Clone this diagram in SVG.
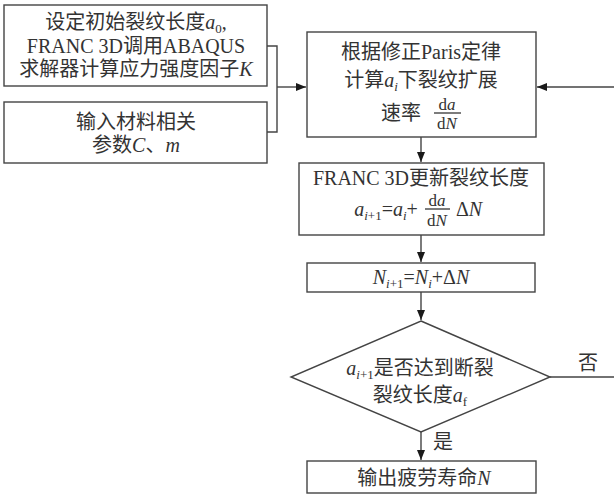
<svg xmlns="http://www.w3.org/2000/svg" width="614" height="494" viewBox="0 0 614 494">
<defs>
<marker id="ah" viewBox="0 0 10 8" refX="10" refY="4" markerWidth="10" markerHeight="8" markerUnits="userSpaceOnUse" orient="auto">
<path d="M0,0 L10,4 L0,8 Z" fill="#1a1a1a"/>
</marker>
<style>
.box{fill:#fff;stroke:#444;stroke-width:1.4}
.ln{fill:none;stroke:#444;stroke-width:1.4}
text{font-family:"Liberation Serif","Noto Sans CJK SC",serif;font-size:20px;fill:#333}
.c{text-anchor:middle}
.i{font-style:italic}
.s{font-size:13px}
.f{font-size:17px}
</style>
</defs>
<rect width="614" height="494" fill="#fff"/>
<g id="connectors">
<path class="ln" d="M267,46 H277 V132 H267"/>
<path class="ln" d="M277,87 H306" marker-end="url(#ah)"/>
<path class="ln" d="M616,87 H537" marker-end="url(#ah)"/>
<path class="ln" d="M421,137 V162" marker-end="url(#ah)"/>
<path class="ln" d="M421,235 V262" marker-end="url(#ah)"/>
<path class="ln" d="M421,292 V320" marker-end="url(#ah)"/>
<path class="ln" d="M421,432 V460" marker-end="url(#ah)"/>
<path class="ln" d="M550,377 H616 V87"/>
<text x="588" y="370" class="c">否</text>
<text x="443" y="449" class="c">是</text>
</g>
<g id="n1">
<rect class="box" x="4" y="5" width="263" height="81"/>
<text x="136" y="29" class="c">设定初始裂纹长度<tspan class="i">a</tspan><tspan class="s" dy="4">0</tspan><tspan dy="-4">,</tspan></text>
<text x="136" y="53" class="c">FRANC 3D调用ABAQUS</text>
<text x="136" y="76" class="c">求解器计算应力强度因子<tspan class="i">K</tspan></text>
</g>
<g id="n2">
<rect class="box" x="4" y="102" width="263" height="61"/>
<text x="136" y="129" class="c">输入材料相关</text>
<text x="136" y="152" class="c">参数<tspan class="i">C</tspan>、<tspan class="i">m</tspan></text>
</g>
<g id="n3">
<rect class="box" x="307" y="32" width="229" height="105"/>
<text x="421" y="59" class="c">根据修正Paris定律</text>
<text x="421" y="87" class="c">计算<tspan class="i">a</tspan><tspan class="s i" dy="4">i</tspan><tspan dy="-4">下裂纹扩展</tspan></text>
<text x="401" y="120" class="c">速率</text>
<text x="447" y="110" class="c f">d<tspan class="i">a</tspan></text>
<line class="ln" x1="434" y1="113" x2="461" y2="113" stroke-width="1"/>
<text x="447" y="129" class="c f">d<tspan class="i">N</tspan></text>
</g>
<g id="n4">
<rect class="box" x="299" y="163" width="245" height="72"/>
<text x="421" y="185" class="c">FRANC 3D更新裂纹长度</text>
<text x="386" y="216" class="c"><tspan class="i">a</tspan><tspan class="s i" dy="4">i</tspan><tspan class="s" dy="0">+1</tspan><tspan dy="-4">=</tspan><tspan class="i">a</tspan><tspan class="s i" dy="4">i</tspan><tspan dy="-4">+</tspan></text>
<text x="437" y="206" class="c f">d<tspan class="i">a</tspan></text>
<line class="ln" x1="425" y1="209" x2="450" y2="209" stroke-width="1"/>
<text x="437" y="226" class="c f">d<tspan class="i">N</tspan></text>
<text x="469" y="216" class="c">Δ<tspan class="i">N</tspan></text>
</g>
<g id="n5">
<rect class="box" x="307" y="263" width="228" height="29"/>
<text x="421" y="284" class="c"><tspan class="i">N</tspan><tspan class="s i" dy="4">i</tspan><tspan class="s" dy="0">+1</tspan><tspan dy="-4">=</tspan><tspan class="i">N</tspan><tspan class="s i" dy="4">i</tspan><tspan dy="-4">+Δ</tspan><tspan class="i">N</tspan></text>
</g>
<g id="n6">
<path class="box" d="M421,321 L550,377 L421,432 L291,377 Z"/>
<text x="420" y="375" class="c"><tspan class="i">a</tspan><tspan class="s i" dy="4">i</tspan><tspan class="s" dy="0">+1</tspan><tspan dy="-4">是否达到断裂</tspan></text>
<text x="420" y="402" class="c">裂纹长度<tspan class="i">a</tspan><tspan class="s" dy="4">f</tspan></text>
</g>
<g id="n7">
<rect class="box" x="307" y="461" width="229" height="32"/>
<text x="424" y="485" class="c">输出疲劳寿命<tspan class="i">N</tspan></text>
</g>
</svg>
